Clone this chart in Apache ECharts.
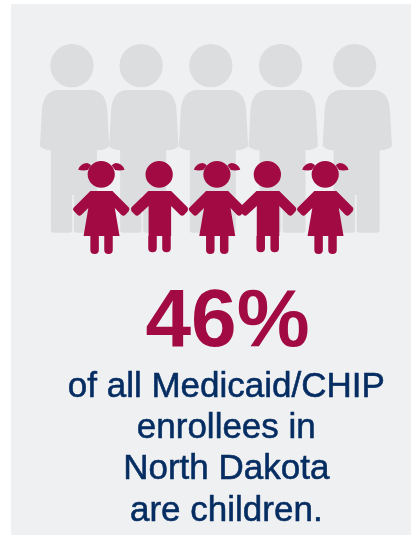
<!DOCTYPE html>
<html>
<head>
<meta charset="utf-8">
<style>html,body{margin:0;padding:0;background:#fff}#c{width:411px;height:535px}</style>
<script src="https://cdn.jsdelivr.net/npm/echarts@6/dist/echarts.min.js"></script>
</head>
<body>
<div id="c"></div>
<script>
// Pictogram values
const adultX = [74.6, 143.8, 213.5, 283.2, 357.3];
const girlX = [101.3, 217, 325.3];
const boyX = [159.5, 267.7];
const headline = '46%';
const captionLines = ['of all Medicaid/CHIP', 'enrollees in', 'North Dakota', 'are children.'];

const adultPath = 'path://M151 197A65 65 0 1 0 281 197A65 65 0 1 0 151 197ZM170 270L278 270Q318 275 322 330L328 438Q320 450 291 451L291 690Q291 698 283 698L230 698Q222 698 222 690L222 585L217 585L217 690Q217 698 209 698L161 698Q153 698 153 690L153 451Q128 450 120 438L126 330Q130 275 170 270Z';
const girlPath = 'path://M264 523A40 40 0 1 0 344 523A40 40 0 1 0 264 523ZM236 509Q244 489 262 489Q268 490 274 496L264 510Q250 513 236 509ZM373 509Q365 489 347 489Q341 490 335 496L345 510Q359 513 373 509ZM272 573L337 573L385 622Q390 628 385 634L375 645Q369 650 363 644L344 624L358 708L338 708L338 750Q338 762 325.5 762Q313 762 313 750L313 708L297 708L297 750Q297 762 284.5 762Q272 762 272 750L272 708L252 708L266 624L246 644Q240 650 234 644L224 634Q218 628 224 622Z';
const boyPath = 'path://M438 523A40 40 0 1 0 518 523A40 40 0 1 0 438 523ZM446 573L513 573L561 622Q565 628 561 634L551 645Q545 650 539 644L513 618L513 708L512 708L512 745Q512 757 499.5 757Q487 757 487 745L487 708L471 708L471 745Q471 757 458.5 757Q446 757 446 745L446 708L447 708L447 618L419 644Q413 650 407 644L397 634Q393 628 397 622Z';

const chart = echarts.init(document.getElementById('c'), null, {renderer: 'canvas'});
const textColor = '#052d62';
const wine = '#a10a42';
const captionTop = [369.5, 410.5, 451.5, 493.5];

chart.setOption({
  animation: false,
  backgroundColor: '#ffffff',
  grid: {show: true, left: 11, top: 4, right: 0, bottom: 0, backgroundColor: '#eff0f2', borderWidth: 0},
  xAxis: {type: 'value', min: 11, max: 411, show: false},
  yAxis: {type: 'value', min: 4, max: 535, inverse: true, show: false},
  tooltip: {show: false},
  series: [
    {type: 'scatter', silent: true, symbol: adultPath, symbolSize: [69.3, 188.7],
     itemStyle: {color: '#dcddde', opacity: 1}, data: adultX.map(x => [x, 138.3])},
    {type: 'scatter', silent: true, symbol: girlPath, symbolSize: [56.5, 93],
     itemStyle: {color: wine, opacity: 1}, data: girlX.map(x => [x, 207.5])},
    {type: 'scatter', silent: true, symbol: boyPath, symbolSize: [57.3, 91.3],
     itemStyle: {color: wine, opacity: 1}, data: boyX.map(x => [x, 206.7])}
  ],
  graphic: [
    {type: 'text', z: 10, silent: true, style: {x: 227.5, y: 282.5, text: headline, fill: wine,
      font: 'bold 82px "Liberation Sans"', textAlign: 'center', textVerticalAlign: 'top'}}
  ].concat(captionLines.map((t, i) => ({
    type: 'text', z: 10, silent: true,
    style: {x: 226.3, y: captionTop[i], text: t, fill: textColor, stroke: textColor, lineWidth: 0.55,
      font: '35px "Liberation Sans"', textAlign: 'center', textVerticalAlign: 'top'}
  })))
});
</script>
</body>
</html>
